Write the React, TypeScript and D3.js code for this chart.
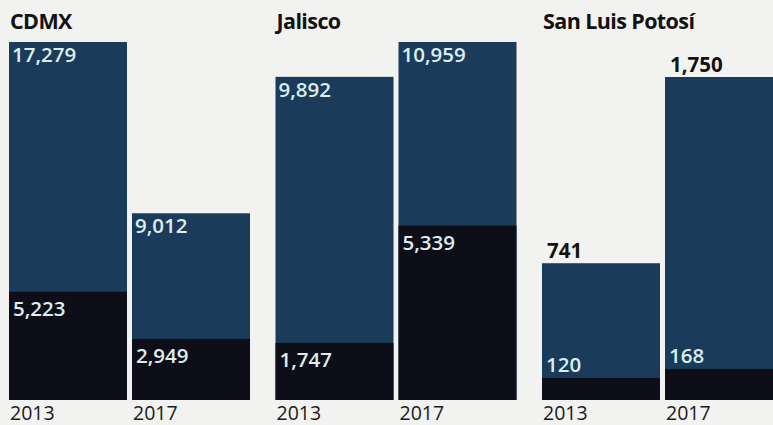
import React from "react";
import * as d3 from "d3";

const states = ["CDMX", "Jalisco", "San Luis Potosí"];
const years = ["2013", "2017"];
const totals = [
  [17279, 9012],
  [9892, 10959],
  [741, 1750],
];
const segments = [
  [5223, 2949],
  [1747, 5339],
  [120, 168],
];

const W = 773;
const H = 425;
const baseY = 400;
const plotTop = 42;
const fmt = d3.format(",");
const FONT = "'Open Sans', sans-serif";

export default function App() {
  const xPanel = d3.scaleBand<string>().domain(states).range([9, 783]).paddingInner(0.0957).paddingOuter(0);
  const xBar = d3.scaleBand<string>().domain(years).range([0, xPanel.bandwidth()]).paddingInner(0.0407).paddingOuter(0);
  const minSeg = 40;

  return (
    <div style={{ position: "fixed", left: 0, top: 0, width: W, height: H, background: "#f2f2f0" }}>
      <svg width={W} height={H} style={{ display: "block" }}>
        {states.map((st, si) => {
          const y0 = d3.scaleLinear().domain([0, d3.max(totals[si])!]).range([baseY, plotTop]);
          const segLabelsAbove = segments[si].some((v) => baseY - y0(v) < minSeg);
          const top = segLabelsAbove ? plotTop + 35 : plotTop;
          const y = d3.scaleLinear().domain([0, d3.max(totals[si])!]).range([baseY, top]);
          const px = xPanel(st)!;
          return (
            <g key={st}>
              <text x={px + 1} y={29} fontFamily={FONT} fontWeight={700} fontSize={21.5} fill="#111" letterSpacing={-0.6}>
                {st}
              </text>
              {years.map((yr, yi) => {
                const bx = px + xBar(yr)!;
                const bw = xBar.bandwidth();
                const t = totals[si][yi];
                const s = segments[si][yi];
                return (
                  <g key={yr}>
                    <rect x={bx} y={y(t)} width={bw} height={baseY - y(t)} fill="#1b3b5b" />
                    <rect x={bx} y={y(s)} width={bw} height={baseY - y(s)} fill="#0d0e18" />
                    <text
                      x={bx + (segLabelsAbove ? 5 : 3)}
                      y={segLabelsAbove ? y(t) - 5 : y(t) + 20}
                      fontFamily={FONT}
                      fontWeight={segLabelsAbove ? 700 : 600}
                      fontSize={20.5}
                      fill={segLabelsAbove ? "#111" : "#dcefee"}
                    >
                      {fmt(t)}
                    </text>
                    <text
                      x={bx + 4}
                      y={segLabelsAbove ? y(s) - 6 : y(s) + 24}
                      fontFamily={FONT}
                      fontWeight={600}
                      fontSize={20.5}
                      fill="#dcefee"
                    >
                      {fmt(s)}
                    </text>
                    <text x={bx + 1} y={420} fontFamily={FONT} fontWeight={400} fontSize={19.5} fill="#1a1a1a">
                      {yr}
                    </text>
                  </g>
                );
              })}
            </g>
          );
        })}
      </svg>
    </div>
  );
}
